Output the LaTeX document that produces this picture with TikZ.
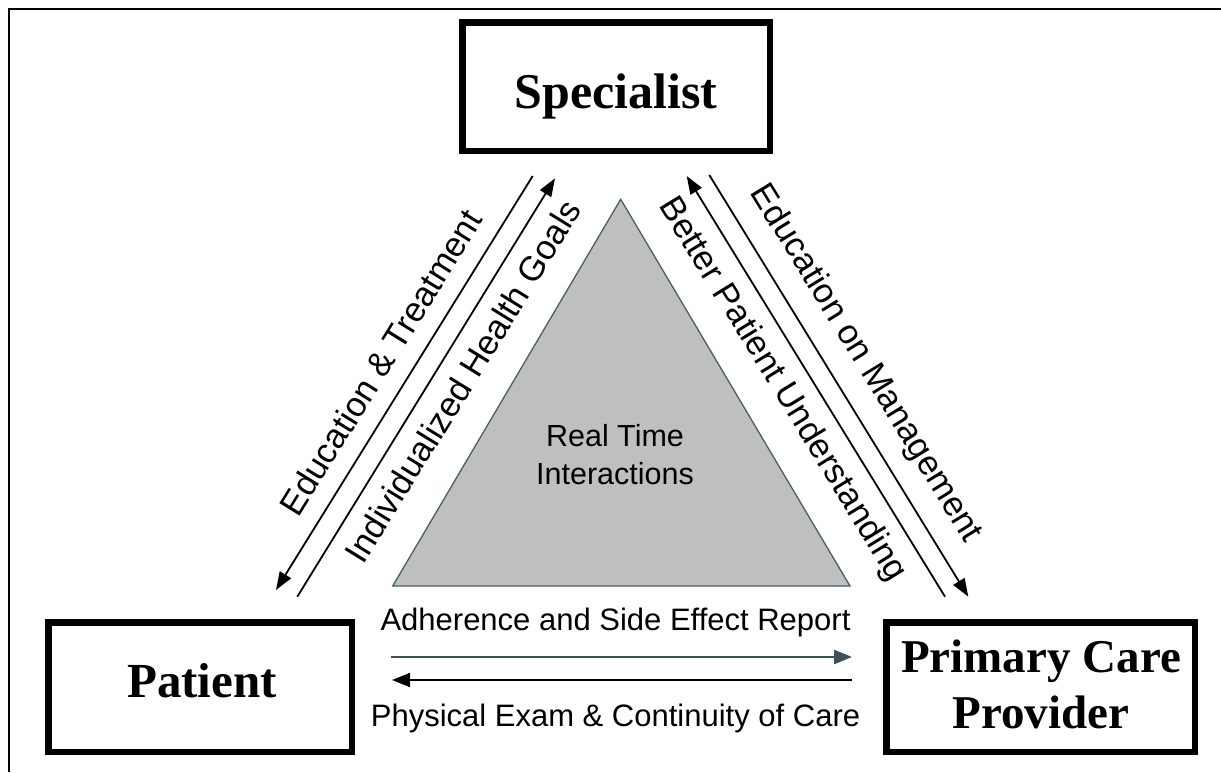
\documentclass[tikz,border=0pt]{standalone}
\usepackage{fontspec}
\setmainfont{Liberation Serif}
\setsansfont{Liberation Sans}
\usetikzlibrary{arrows.meta}
\definecolor{trifill}{RGB}{191,191,191}
\definecolor{triedge}{RGB}{72,94,106}
\definecolor{arrgray}{RGB}{60,80,90}
\begin{document}
\begin{tikzpicture}[x=1pt,y=-1pt,
  box/.style={draw=black, line width=6.5pt, inner sep=0pt, fill=white},
  boxtext/.style={font=\bfseries\fontsize{#1}{#1}\selectfont, anchor=base, inner sep=0pt},
  diaglab/.style={font=\sffamily\fontsize{34.5}{40}\selectfont, inner sep=0pt},
  horlab/.style={font=\sffamily\fontsize{31}{36}\selectfont, inner sep=0pt, anchor=base},
  arr/.style={line width=1.8pt, -{Triangle[length=18pt,width=13pt]}},
  harr/.style={-{Triangle[length=18pt,width=14pt]}}
]
\useasboundingbox (0,0) rectangle (1221,772);
% frame
\draw[line width=2.5pt] (9,772) -- (9,9) -- (1221,9);

% boxes
\node[box, minimum width=307.5pt, minimum height=128.5pt] (spec) at (616,86.5) {};
\node[box, minimum width=303.5pt, minimum height=129.5pt] (pat) at (200,687) {};
\node[box, minimum width=308.5pt, minimum height=129.5pt] (pcp) at (1040.5,687) {};
\node[boxtext=50] (spect) at (616,108) {Specialist};
\node[boxtext=49] (patt) at (202,697) {Patient};
\node[boxtext=47] (pcpt1) at (1041,672) {Primary Care};
\node[boxtext=47] (pcpt2) at (1041,728) {Provider};

% triangle
\coordinate (tA) at (620.7,199.3);
\coordinate (tL) at (392.7,586);
\coordinate (tR) at (850,586);
\filldraw[fill=trifill, draw=triedge, line width=1.3pt] (tA) -- (tR) -- (tL) -- cycle;
\node[font=\sffamily\fontsize{30.5}{38}\selectfont, align=center, inner sep=0pt] (rti) at (615,455) {Real Time\\Interactions};

% diagonal arrows
\coordinate (l1a) at (532.7,176);
\coordinate (l1b) at (276,590);
\coordinate (l2a) at (297.3,596.7);
\coordinate (l2b) at (555,178.3);
\coordinate (rAa) at (945,596.7);
\coordinate (rAb) at (686.7,176);
\coordinate (rBa) at (709.3,175);
\coordinate (rBb) at (968.3,596.7);
\draw[arr] (l1a) -- (l1b);
\draw[arr] (l2a) -- (l2b);
\draw[arr] (rAa) -- (rAb);
\draw[arr] (rBa) -- (rBb);

\path (l1b) -- (l1a) node[diaglab, pos=0.51, sloped, above=18pt] (lblET) {Education \& Treatment};
\path (l2a) -- (l2b) node[diaglab, pos=0.55, sloped, below=15pt] (lblIHG) {Individualized Health Goals};
\path (rAb) -- (rAa) node[diaglab, pos=0.47, sloped, below=14pt] (lblBPU) {Better Patient Understanding};
\path (rBa) -- (rBb) node[diaglab, pos=0.49, sloped, above=18pt] (lblEoM) {Education on Management};

% horizontal arrows
\coordinate (h1a) at (391,657);
\coordinate (h1b) at (852,657);
\coordinate (h2a) at (852,680);
\coordinate (h2b) at (392,680);
\draw[harr, draw=arrgray, fill=black, line width=2.6pt] (h1a) -- (h1b);
\draw[harr, line width=1.6pt] (h2a) -- (h2b);
\node[horlab] (lblAd) at (615.5,630) {Adherence and Side Effect Report};
\node[horlab] (lblPE) at (615.5,726) {Physical Exam \& Continuity of Care};
\end{tikzpicture}
\end{document}
